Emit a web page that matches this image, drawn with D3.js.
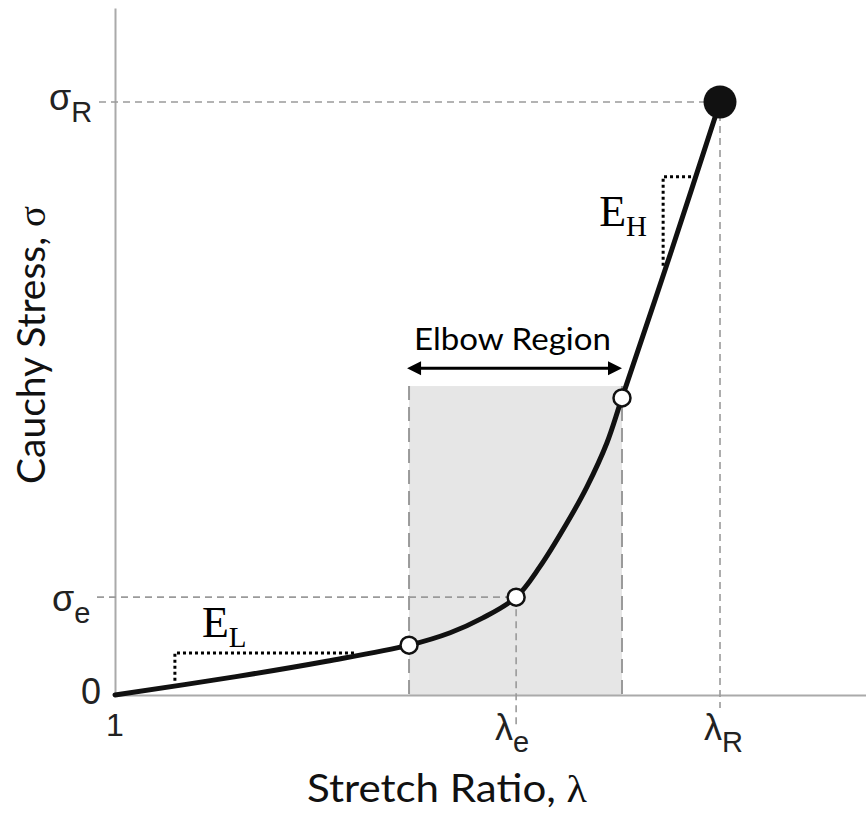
<!DOCTYPE html>
<html>
<head>
<meta charset="utf-8">
<script src="https://cdn.jsdelivr.net/npm/d3@7"></script>
<style>
  html, body { margin: 0; padding: 0; background: #fff; }
  svg { display: block; }
</style>
</head>
<body>
<svg id="chart" width="866" height="819"></svg>
<script>
// Stress–stretch response of a soft tissue: toe, elbow and linear regions
const stretchRatio = [1.000, 1.200, 1.350, 1.486, 1.554, 1.608, 1.663, 1.702, 1.747, 1.780, 1.813, 1.838, 1.920, 2.000];
const cauchyStress = [0.000, 0.031, 0.057, 0.084, 0.105, 0.130, 0.165, 0.216, 0.290, 0.351, 0.425, 0.501, 0.750, 1.000];

// marked states along the curve: elbow start, elbow point, elbow end
const markerLambda = [1.486, 1.663, 1.838];
const markerStress = [0.084, 0.165, 0.501];
// rupture
const ruptureLambda = 2.000;
const ruptureStress = 1.000;

const elbowPoint = { lambda: 1.663, stress: 0.165 };
const elbowRange = [1.486, 1.838];
const elbowTopStress = 0.521;
const elbowArrowStress = 0.551;

// slope triangles: corner, end of horizontal leg, end of vertical leg (lambda, stress)
const lowSlope = [1.099, 0.071, 1.395, 0.071, 1.099, 0.022];
const highSlope = [1.906, 0.874, 1.962, 0.874, 1.906, 0.722];

const domainLambda = [1, 2.2413];
const domainStress = [0, 1.1585];

const svg = d3.select("#chart");
const x = d3.scaleLinear().domain(domainLambda).range([115, 866]);
const y = d3.scaleLinear().domain(domainStress).range([695, 8]);

const grey = "#9a9a9a";

// elbow region shading
svg.append("rect")
  .attr("x", x(elbowRange[0]))
  .attr("y", y(elbowTopStress))
  .attr("width", x(elbowRange[1]) - x(elbowRange[0]))
  .attr("height", y(0) - y(elbowTopStress))
  .attr("fill", "#e6e6e6");

// elbow region boundaries
svg.append("line")
  .attr("x1", x(elbowRange[0])).attr("x2", x(elbowRange[0]))
  .attr("y1", y(elbowTopStress)).attr("y2", y(0) + 6)
  .attr("stroke", grey).attr("stroke-width", 2).attr("stroke-dasharray", "14,7");
svg.append("line")
  .attr("x1", x(elbowRange[1])).attr("x2", x(elbowRange[1]))
  .attr("y1", y(elbowTopStress)).attr("y2", y(0))
  .attr("stroke", grey).attr("stroke-width", 2).attr("stroke-dasharray", "14,7");

// axes (lines only)
const xAxis = d3.axisBottom(x).tickValues([]).tickSizeOuter(0);
const yAxis = d3.axisLeft(y).tickValues([]).tickSizeOuter(0);
svg.append("g").attr("transform", `translate(0,${y(0)})`).call(xAxis)
  .select(".domain").attr("stroke", "#aaaaaa").attr("stroke-width", 2);
svg.append("g").attr("transform", `translate(${x(1)},0)`).call(yAxis)
  .select(".domain").attr("stroke", "#aaaaaa").attr("stroke-width", 2);

// reference guides
const guides = svg.append("g")
  .attr("stroke", grey).attr("stroke-width", 1.6).attr("stroke-dasharray", "7,5").attr("fill", "none");
guides.append("line")
  .attr("x1", x(1) - 16).attr("x2", x(ruptureLambda))
  .attr("y1", y(ruptureStress)).attr("y2", y(ruptureStress));
guides.append("line")
  .attr("x1", x(ruptureLambda)).attr("x2", x(ruptureLambda))
  .attr("y1", y(ruptureStress)).attr("y2", y(0) + 13);
guides.append("line")
  .attr("x1", x(1) - 18).attr("x2", x(elbowPoint.lambda))
  .attr("y1", y(elbowPoint.stress)).attr("y2", y(elbowPoint.stress));
guides.append("line")
  .attr("x1", x(elbowPoint.lambda)).attr("x2", x(elbowPoint.lambda))
  .attr("y1", y(elbowPoint.stress)).attr("y2", y(0) + 30);

// slope triangles
const dotted = svg.append("g")
  .attr("stroke", "#000").attr("stroke-width", 3).attr("stroke-dasharray", "3,3").attr("fill", "none");
[lowSlope, highSlope].forEach(s => {
  dotted.append("path").attr("d",
    `M${x(s[2])},${y(s[3])}L${x(s[0])},${y(s[1])}L${x(s[4])},${y(s[5])}`);
});

// stress-stretch curve
const line = d3.line()
  .x((d, i) => x(stretchRatio[i]))
  .y((d, i) => y(cauchyStress[i]))
  .curve(d3.curveCatmullRom.alpha(0.5));
svg.append("path")
  .datum(stretchRatio)
  .attr("d", line)
  .attr("fill", "none")
  .attr("stroke", "#111")
  .attr("stroke-width", 5)
  .attr("stroke-linecap", "round");

// open markers
svg.selectAll("circle.open")
  .data(markerLambda)
  .join("circle")
  .attr("class", "open")
  .attr("cx", d => x(d))
  .attr("cy", (d, i) => y(markerStress[i]))
  .attr("r", 8.5)
  .attr("fill", "#fff")
  .attr("stroke", "#111")
  .attr("stroke-width", 2.5);

// rupture point
svg.append("circle")
  .attr("cx", x(ruptureLambda)).attr("cy", y(ruptureStress))
  .attr("r", 16.5).attr("fill", "#111");

// elbow region arrow
const ay = y(elbowArrowStress);
const ax0 = x(elbowRange[0]) - 2, ax1 = x(elbowRange[1]);
svg.append("line")
  .attr("x1", ax0 + 8).attr("x2", ax1 - 8)
  .attr("y1", ay).attr("y2", ay)
  .attr("stroke", "#000").attr("stroke-width", 3);
svg.append("path")
  .attr("d", `M${ax0},${ay}L${ax0 + 14},${ay - 7}L${ax0 + 14},${ay + 7}Z`)
  .attr("fill", "#000");
svg.append("path")
  .attr("d", `M${ax1},${ay}L${ax1 - 14},${ay - 7}L${ax1 - 14},${ay + 7}Z`)
  .attr("fill", "#000");
svg.append("text")
  .attr("x", (ax0 + ax1) / 2 - 2).attr("y", ay - 18)
  .attr("text-anchor", "middle")
  .attr("font-family", "Lato, 'Open Sans', sans-serif")
  .attr("font-size", 31)
  .attr("textLength", 197).attr("lengthAdjust", "spacingAndGlyphs")
  .text("Elbow Region");

// tick labels with subscripts
const tickFont = "'Liberation Sans', Arial, sans-serif";
function subLabel(px, py, main, sub, anchor) {
  const t = svg.append("text")
    .attr("x", px).attr("y", py)
    .attr("font-family", tickFont)
    .attr("font-size", 36)
    .attr("text-anchor", anchor || "start")
    .attr("fill", "#222");
  t.append("tspan").text(main);
  if (sub) t.append("tspan").attr("font-size", 29).attr("dy", 12).text(sub);
  return t;
}
subLabel(x(1) - 66, y(ruptureStress) + 8, "σ", "R");
subLabel(x(1) - 63, y(elbowPoint.stress) + 14, "σ", "e");
subLabel(x(1) - 14, y(0) + 9, "0", null, "end");
svg.append("text")
  .attr("x", x(1)).attr("y", y(0) + 41)
  .attr("text-anchor", "middle")
  .attr("font-family", tickFont).attr("font-size", 32).attr("fill", "#222")
  .text("1");
subLabel(x(elbowPoint.lambda) - 21, y(0) + 45, "λ", "e");
subLabel(x(ruptureLambda) - 16, y(0) + 45, "λ", "R");

// slope labels
function slopeLabel(px, py, sub) {
  const t = svg.append("text")
    .attr("x", px).attr("y", py)
    .attr("font-family", "'Liberation Serif', 'DejaVu Serif', serif")
    .attr("font-size", 44);
  t.append("tspan").text("E");
  t.append("tspan").attr("font-size", 29).attr("dy", 10).text(sub);
}
slopeLabel(x(1.099) + 27, y(lowSlope[1]) - 16, "L");
slopeLabel(x(highSlope[0]) - 64, 226, "H");

// axis titles
const title = svg.append("text")
  .attr("x", 447).attr("y", 802)
  .attr("text-anchor", "middle")
  .attr("font-family", "Lato, 'Open Sans', sans-serif")
  .attr("font-size", 38).attr("fill", "#111")
  .attr("textLength", 280).attr("lengthAdjust", "spacingAndGlyphs");
title.append("tspan").text("Stretch Ratio, ");
title.append("tspan").attr("font-family", "'Liberation Serif', serif").text("λ");

const ytitle = svg.append("text")
  .attr("transform", "translate(45,345) rotate(-90)")
  .attr("text-anchor", "middle")
  .attr("font-family", "Lato, 'Open Sans', sans-serif")
  .attr("font-size", 38).attr("fill", "#111")
  .attr("textLength", 278).attr("lengthAdjust", "spacingAndGlyphs");
ytitle.append("tspan").text("Cauchy Stress, ");
ytitle.append("tspan").attr("font-family", "'Liberation Serif', serif").text("σ");
</script>
</body>
</html>
